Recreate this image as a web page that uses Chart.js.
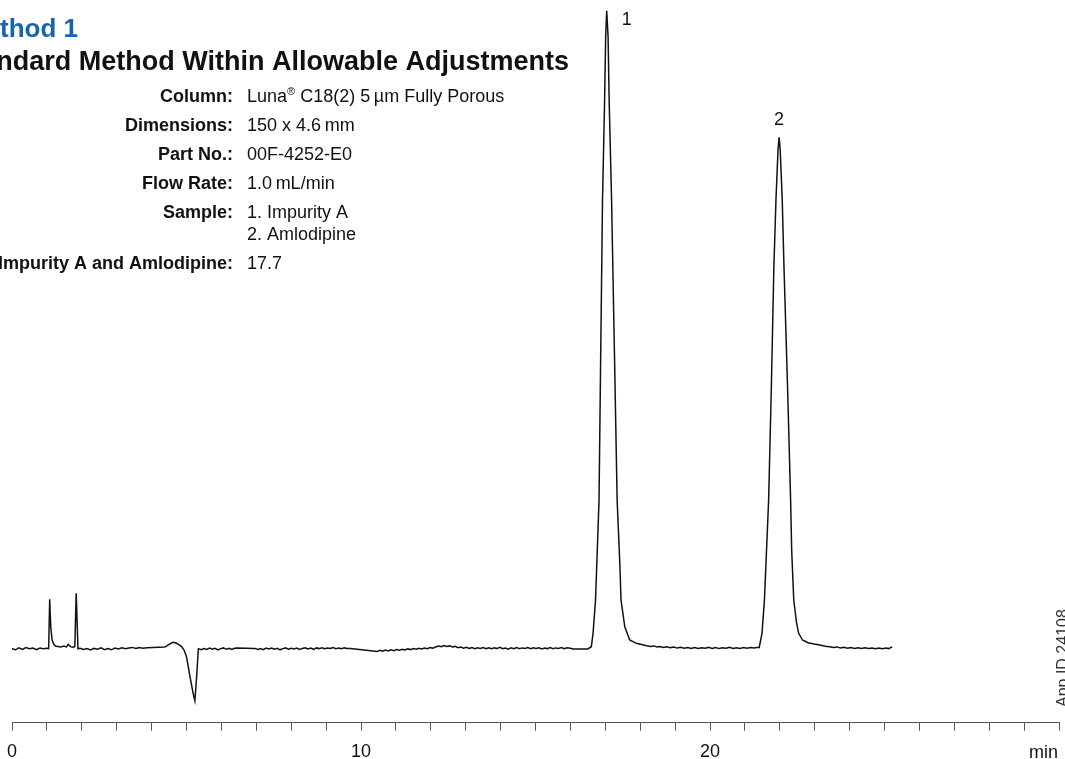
<!DOCTYPE html>
<html>
<head>
<meta charset="utf-8">
<title>Method 1 – Amlodipine / Impurity A</title>
<script src="https://cdn.jsdelivr.net/npm/chart.js@4.4.1/dist/chart.umd.min.js"></script>
<style>
  html, body { margin: 0; padding: 0; background: #fff; }
  #wrap { position: relative; width: 1065px; height: 759px; overflow: hidden; }
</style>
</head>
<body>
<div id="wrap"><canvas id="chrom" width="1065" height="759"></canvas></div>
<script>
// Textos do cabeçalho
const tituloMetodo = 'Method 1';
const tituloSub = 'Standard Method Within Allowable Adjustments';
const infoRotulos = ['Column:', 'Dimensions:', 'Part No.:', 'Flow Rate:', 'Sample:', '', 'Resolution between Impurity A and Amlodipine:'];
const infoValores = ['Luna® C18(2) 5\u2009µm Fully Porous', '150 x 4.6\u2009mm', '00F-4252-E0', '1.0\u2009mL/min', '1. Impurity A', '2. Amlodipine', '17.7'];
const appId = 'App ID 24108';

// Eixo de tempo (min)
const tempoMin = 0;
const tempoMax = 30;
const ticksRotulados = [0, 10, 20];
const unidadeTempo = 'min';

// Picos identificados
const picosNomes = ['1', '2'];
const picosTempos = [17.04, 21.98];

// Cromatograma: tempo (min) e sinal (unid. arbitrárias)
const tempos = [
  0.00, 0.10, 0.20, 0.30, 0.40, 0.50, 0.60, 0.70, 0.80, 0.90,
  1.00, 1.05, 1.08, 1.11, 1.15, 1.20, 1.26, 1.32, 1.40, 1.48,
  1.56, 1.61, 1.68, 1.74, 1.80, 1.84, 1.89, 1.95, 2.05, 2.15,
  2.25, 2.35, 2.45, 2.55, 2.65, 2.75, 2.85, 2.95, 3.05, 3.15,
  3.25, 3.35, 3.45, 3.55, 3.65, 3.75, 3.87, 4.38, 4.45, 4.52,
  4.61, 4.70, 4.78, 4.86, 4.93, 5.00, 5.10, 5.19, 5.24, 5.29,
  5.34, 5.42, 5.50, 5.58, 5.66, 5.74, 5.82, 5.90, 5.98, 6.06,
  6.14, 6.22, 6.30, 6.38, 6.44, 6.96, 7.04, 7.12, 7.20, 7.28,
  7.36, 7.44, 7.52, 7.60, 7.68, 7.76, 7.84, 7.92, 8.00, 8.08,
  8.16, 8.24, 8.32, 8.40, 8.48, 8.56, 8.64, 8.72, 8.80, 8.88,
  8.96, 9.04, 9.12, 9.20, 9.28, 9.36, 9.44, 9.52, 9.60, 9.70,
  10.46, 10.54, 10.62, 10.70, 10.78, 10.86, 10.94, 11.02, 11.10, 11.18,
  11.26, 11.34, 11.42, 11.50, 11.58, 11.66, 11.74, 11.82, 11.90, 11.98,
  12.06, 12.14, 12.22, 12.30, 12.38, 12.46, 12.54, 12.62, 12.70, 12.78,
  12.86, 12.94, 13.02, 13.10, 13.18, 13.26, 13.34, 13.42, 13.50, 13.58,
  13.66, 13.74, 13.82, 13.90, 13.98, 14.06, 14.14, 14.22, 14.30, 14.38,
  14.46, 14.54, 14.62, 14.70, 14.78, 14.86, 14.94, 15.02, 15.10, 15.18,
  15.26, 15.34, 15.42, 15.50, 15.58, 15.66, 15.74, 15.82, 15.90, 16.00,
  16.07, 16.50, 16.60, 16.65, 16.72, 16.82, 16.87, 16.92, 16.98, 17.01,
  17.04, 17.08, 17.11, 17.18, 17.26, 17.34, 17.42, 17.45, 17.56, 17.70,
  17.89, 18.18, 18.30, 18.40, 18.48, 18.56, 18.66, 18.76, 18.86, 18.96,
  19.06, 19.16, 19.26, 19.36, 19.46, 19.56, 19.66, 19.76, 19.86, 19.96,
  20.06, 20.16, 20.26, 20.36, 20.46, 20.56, 20.66, 20.76, 20.86, 20.96,
  21.06, 21.16, 21.26, 21.34, 21.41, 21.49, 21.56, 21.62, 21.68, 21.76,
  21.83, 21.89, 21.95, 21.98, 22.01, 22.07, 22.12, 22.22, 22.31, 22.34,
  22.40, 22.48, 22.54, 22.65, 22.81, 22.98, 23.15, 23.30, 23.43, 23.54,
  23.64, 23.74, 23.84, 23.94, 24.04, 24.14, 24.24, 24.34, 24.44, 24.54,
  24.64, 24.74, 24.84, 24.94, 25.04, 25.12, 25.22
];
const sinal = [
  0.4, -0.8, 1.1, -0.4, 1.5, 0.2, 1.0, -0.6, 0.9, 0.3,
  0.8, 0.5, 49.7, 22.0, 9.0, 4.5, 2.8, 2.4, 1.9, 2.9,
  2.1, 4.6, 2.4, 1.8, 2.3, 55.7, 0.2, 0.7, -0.5, 0.4,
  -0.9, 0.6, -0.2, 1.2, -0.6, 0.5, -0.8, 1.0, 0.1, 1.3,
  0.2, 0.9, 1.6, 0.6, 1.4, 0.7, 1.3, 2.1, 3.3, 5.0,
  6.7, 6.0, 4.3, 2.4, -1.0, -7.7, -27.7, -44.3, -51.7, -28.0,
  0.3, -0.7, 0.5, -0.4, 0.9, -0.2, 0.6, -0.9, 0.4, 1.1,
  -0.3, 0.8, -0.5, 0.7, 0.9, 0.6, -0.4, 0.5, -0.7, 0.9,
  0.1, 1.0, -0.3, 0.6, -0.8, 0.4, 1.1, -0.2, 0.7, 0.0,
  1.0, -0.4, 0.6, 1.2, 0.1, 0.9, -0.3, 1.1, 0.4, 1.3,
  0.2, 1.0, 0.5, 1.4, 0.3, 0.9, 0.2, 1.1, 0.4, 0.6,
  -2.6, -1.4, -2.2, -1.0, -1.9, -0.8, -1.6, -0.5, -1.3, -0.2,
  -1.0, 0.1, -0.6, 0.5, -0.3, 0.8, 0.0, 1.0, 0.3, 1.4,
  0.8, 2.0, 2.9, 2.2, 3.4, 2.6, 3.1, 2.0, 2.6, 1.3,
  1.9, 0.7, 1.6, 0.5, 1.4, 0.3, 1.2, 0.6, 1.5, 0.4,
  1.3, 0.2, 1.1, 0.5, 1.6, 0.3, 1.0, -0.1, 1.2, 0.4,
  1.4, 0.2, 1.1, 0.6, 1.5, 0.3, 1.2, 0.5, 1.3, 0.1,
  1.0, 0.4, 1.5, 0.2, 1.1, 0.6, 1.4, 0.3, 1.2, 0.8,
  0.1, 0.1, 2.3, 16.0, 49.0, 148.0, 300.0, 449.0, 549.0, 612.0,
  638.3, 612.0, 549.0, 449.0, 300.0, 148.0, 82.0, 49.0, 22.0, 9.0,
  5.7, 3.3, 2.6, 3.1, 2.0, 2.4, 1.5, 2.2, 1.2, 1.9,
  0.9, 1.7, 0.8, 1.5, 0.6, 1.4, 0.5, 1.3, 0.7, 1.6,
  0.6, 1.4, 0.4, 1.2, 0.8, 1.7, 0.5, 1.3, 0.6, 1.5,
  0.7, 1.4, 0.9, 1.6, 1.5, 15.7, 49.0, 99.0, 149.0, 265.0,
  382.0, 449.0, 500.0, 511.7, 500.0, 449.0, 382.0, 265.0, 149.0, 99.0,
  49.0, 26.0, 15.7, 9.0, 6.3, 5.0, 4.0, 2.8, 2.3, 1.4,
  2.1, 1.0, 1.8, 0.7, 1.5, 0.6, 1.3, 0.4, 1.2, 0.5,
  1.1, 0.3, 1.0, 0.2, 0.9, 0.4, 2.2
];

const fonte = '"Liberation Sans", Arial, Helvetica, sans-serif';

// Escreve títulos, tabela de condições, rótulos dos picos e unidade do eixo
const pluginTextos = {
  id: 'textos',
  afterDraw(chart) {
    const ctx = chart.ctx;
    const xs = chart.scales.x;
    const ys = chart.scales.y;
    ctx.save();
    ctx.textBaseline = 'alphabetic';

    ctx.font = 'bold 26px ' + fonte;
    ctx.fillStyle = '#1664b0';
    ctx.textAlign = 'right';
    ctx.fillText(tituloMetodo, 78, 37);

    ctx.font = 'bold 27px ' + fonte;
    ctx.fillStyle = '#111';
    ctx.fillText(tituloSub, 569, 70);

    const linhas = [102, 131, 160, 189, 218, 239.5, 269];
    infoRotulos.forEach((rot, i) => {
      const y = linhas[i];
      if (rot) {
        ctx.font = 'bold 18px ' + fonte;
        ctx.textAlign = 'right';
        ctx.fillText(rot, 233, y);
      }
      ctx.font = '18px ' + fonte;
      ctx.textAlign = 'left';
      const partes = infoValores[i].split('®');
      let x = 247;
      partes.forEach((p, j) => {
        if (j > 0) {
          ctx.font = '11px ' + fonte;
          ctx.fillText('®', x, y - 7);
          x += ctx.measureText('®').width;
          ctx.font = '18px ' + fonte;
        }
        ctx.fillText(p, x, y);
        x += ctx.measureText(p).width;
      });
    });

    // rótulos dos picos
    ctx.font = '18px ' + fonte;
    ctx.textAlign = 'center';
    picosNomes.forEach((nome, k) => {
      let idx = 0;
      tempos.forEach((t, i) => {
        if (Math.abs(t - picosTempos[k]) < Math.abs(tempos[idx] - picosTempos[k])) idx = i;
      });
      const px = xs.getPixelForValue(tempos[idx]);
      const py = ys.getPixelForValue(sinal[idx]);
      if (k === 0) {
        ctx.fillText(nome, px + 20, py + 14.5);
      } else {
        ctx.fillText(nome, px, py - 12);
      }
    });

    // unidade do eixo x
    ctx.textAlign = 'right';
    ctx.fillText(unidadeTempo, xs.getPixelForValue(tempoMax) - 1, 757.5);

    // App ID na vertical
    ctx.translate(1068, 707);
    ctx.rotate(-Math.PI / 2);
    ctx.font = '16px ' + fonte;
    ctx.fillStyle = '#333';
    ctx.textAlign = 'left';
    ctx.fillText(appId, 0, 0);
    ctx.restore();
  }
};

const ctx = document.getElementById('chrom').getContext('2d');
new Chart(ctx, {
  type: 'line',
  data: {
    datasets: [{
      label: 'UV',
      data: tempos.map((t, i) => ({ x: t, y: sinal[i] })),
      borderColor: '#111',
      borderWidth: 1.5,
      pointRadius: 0,
      tension: 0,
      fill: false
    }]
  },
  options: {
    responsive: false,
    animation: false,
    devicePixelRatio: 1,
    layout: { padding: { left: 12, right: 6, top: 0, bottom: 0 } },
    plugins: { legend: { display: false }, tooltip: { enabled: false } },
    scales: {
      x: {
        type: 'linear',
        min: tempoMin,
        max: tempoMax,
        border: { display: true, color: '#555', width: 1 },
        grid: { display: true, drawOnChartArea: false, drawTicks: true, tickLength: 8, tickColor: '#555', tickWidth: 1 },
        ticks: {
          stepSize: 1,
          autoSkip: false,
          maxRotation: 0,
          padding: 14,
          color: '#111',
          font: { family: fonte, size: 18, lineHeight: 0.8 },
          callback: (v) => (ticksRotulados.includes(v) ? String(v) : '')
        },
        afterFit: (escala) => {
          // área do gráfico fixa: eixo em y≈722.7, sem folga lateral extra
          escala.height = 36.3;
          escala.paddingLeft = 0;
          escala.paddingRight = 0;
        }
      },
      y: {
        display: false,
        min: -73.7,
        max: 649
      }
    }
  },
  plugins: [pluginTextos]
});
</script>
</body>
</html>
